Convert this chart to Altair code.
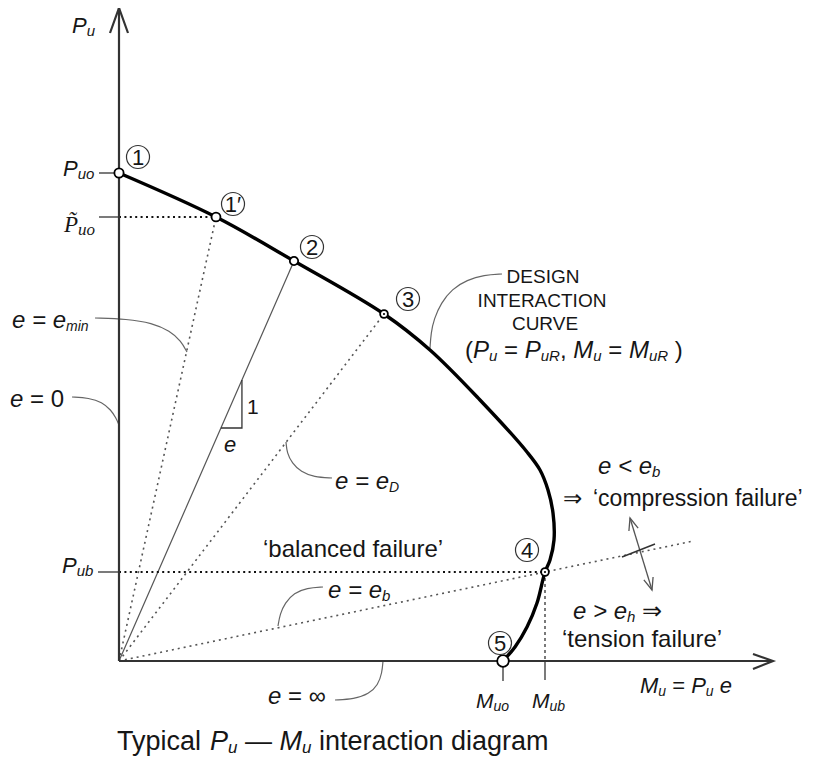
import math
import altair as alt
import pandas as pd

# ---------------- values ----------------
# diagram units: M to the right, P upward, origin at the corner of the axes
curve_M = [0, 97, 175, 265, 311, 361, 408, 421, 429, 434, 435, 431, 426, 418, 408, 396, 384]
curve_P = [488, 444, 400, 347, 311, 261, 209, 191, 171, 148, 121, 101, 89, 58, 34, 14, 0]

point_name = ["1", "1′", "2", "3", "4", "5"]
point_M = [0, 97, 175, 265, 426, 384]
point_P = [488, 444, 400, 347, 89, 0]

tag_M = [19, 114, 193, 289, 408, 381]
tag_P = [504, 457, 414, 362, 111, 18]

ray_to = ["1′", "2", "3", "4"]
ray_reach = [1.0, 1.0, 1.0, 1.35]
ray_solid = [False, True, False, False]

axis_M_end = 654
axis_P_end = 653

lead_emin = [(-24, 343), (8, 342), (33, 338), (51, 330), (62, 320), (68, 309)]
lead_e0 = [(-47, 264), (-30, 263), (-17, 259), (-8, 251), (-3, 243), (0, 236)]
lead_eD = [(213, 183), (195, 184), (182, 189), (173, 198), (168, 208), (167, 219)]
lead_eb = [(204, 74), (188, 73), (175, 68), (166, 58), (161, 47), (159, 35)]
lead_einf = [(216, -39), (235, -38), (250, -33), (259, -24), (263, -12), (264, 0)]
lead_design = [(383, 387), (365, 386), (348, 381), (333, 372), (322, 358),
               (315, 342), (312, 328), (311, 313)]

slope_run = 21  # little slope triangle on the e line
double_arrow = [(511, 143), (533, 71)]
cross_mark = [(503, 104), (536, 117)]

# ---------------- helpers ----------------
P = dict(zip(point_name, zip(point_M, point_P)))

rows = []
def seg(layer, g, pts):
    for i, (x, y) in enumerate(pts):
        rows.append(dict(layer=layer, g=g, i=i, x=x, y=y))

# axes with open arrowheads
seg("axis", "ya", [(0, 0), (0, axis_P_end)])
seg("axis", "xa", [(0, 0), (axis_M_end, 0)])
seg("axis", "yh", [(-9, axis_P_end - 25), (0, axis_P_end), (9, axis_P_end - 25)])
seg("axis", "xh", [(axis_M_end - 20, 7), (axis_M_end, 0), (axis_M_end - 20, -8)])

# rays from the origin
for name, k, solid in zip(ray_to, ray_reach, ray_solid):
    m, p = P[name]
    seg("raysolid" if solid else "raydot", "r" + name, [(0, 0), (m * k, p * k)])

# dotted reference lines
seg("refdot", "h1", [(0, P["1′"][1]), P["1′"]])
seg("refdot", "h4", [(0, P["4"][1]), P["4"]])
seg("vdot", "v4", [P["4"], (P["4"][0], 0)])

# ticks
seg("tick", "t1", [(-20, P["1"][1]), (0, P["1"][1])])
seg("tick", "t1p", [(-20, P["1′"][1]), (0, P["1′"][1])])
seg("tick", "t4", [(-21, P["4"][1]), (0, P["4"][1])])
seg("tick", "t5", [(P["5"][0], -6), (P["5"][0], -20)])
seg("tick", "t4b", [(P["4"][0], 0), (P["4"][0], -19)])

# slope triangle on the e line
m2, p2 = P["2"]
x_lo = 233 * m2 / p2
seg("tick", "tri", [(x_lo, 233), (x_lo + slope_run, 233), (x_lo + slope_run, (x_lo + slope_run) * p2 / m2)])

# leaders
for nm, pts in [("l1", lead_emin), ("l2", lead_e0), ("l3", lead_eD), ("l4", lead_eb),
                ("l5", lead_einf), ("l6", lead_design)]:
    seg("leader", nm, pts)

# double arrow
(ax0, ay0), (ax1, ay1) = double_arrow
seg("darrow", "shaft", double_arrow)
for (tx, ty), (fx, fy), nm in [((ax0, ay0), (ax1, ay1), "ha"), ((ax1, ay1), (ax0, ay0), "hb")]:
    ang = math.atan2(fy - ty, fx - tx)
    L = 13
    a1, a2 = ang + 0.38, ang - 0.38
    seg("darrow", nm, [(tx + L * math.cos(a1), ty + L * math.sin(a1)), (tx, ty),
                        (tx + L * math.cos(a2), ty + L * math.sin(a2))])
seg("cross", "cr", cross_mark)

# curve
for i, (m, p) in enumerate(zip(curve_M, curve_P)):
    rows.append(dict(layer="curve", g="c", i=i, x=m, y=p))

lines = pd.DataFrame(rows)

# ---------------- text ----------------
WS = {' ': 278, '(': 333, ')': 333, ',': 278, '=': 584, '<': 584, '>': 584, '‘': 222, '’': 222,
      '—': 1000, '∞': 713, '⇒': 838, '′': 191, '\u0303': 0,
      'a': 556, 'b': 556, 'c': 500, 'd': 556, 'e': 556, 'f': 278, 'g': 556, 'h': 556, 'i': 222,
      'l': 222, 'm': 833, 'n': 556, 'o': 556, 'p': 556, 'r': 333, 's': 500, 't': 278, 'u': 556,
      'y': 500, '0': 556, '1': 556, 'A': 667, 'C': 722, 'D': 722, 'E': 667, 'G': 778, 'I': 278,
      'M': 833, 'N': 722, 'O': 778, 'P': 667, 'R': 722, 'S': 667, 'T': 611, 'U': 722, 'V': 667}
WSERIF = {'P': 611, 'u': 500, 'o': 500, '\u0303': 0}

def width(text, size, face):
    tab = WSERIF if face == "si" else WS
    return sum(tab.get(c, 556) for c in text) * size / 1000.0

trows = []
def lay(x0, y0, runs):
    x = x0
    for text, face, size, sub in runs:
        lead = len(text) - len(text.lstrip(" "))
        shown = text.strip(" ")
        if shown:
            trows.append(dict(x=x + width(" " * lead, size, face), y=y0 - (3 if sub else 0),
                              text=shown, size=size, face=face))
        x += width(text, size, face)

lay(-47, 628, [("P", "i", 22, 0), ("u", "i", 15, 1)])
lay(-56, 485, [("P", "i", 22, 0), ("uo", "i", 15, 1)])
lay(-55, 429, [("P\u0303", "si", 23, 0), ("uo", "si", 17, 1)])
lay(-57, 88, [("P", "i", 22, 0), ("ub", "i", 15, 1)])
lay(-107, 333, [("e = e", "i", 24, 0), ("min", "i", 14, 1)])
lay(-109, 254, [("e", "i", 24, 0), (" = 0", "n", 24, 0)])
lay(128, 247, [("1", "n", 21, 0)])
lay(105, 209, [("e", "i", 22, 0)])
lay(216, 172, [("e = e", "i", 24, 0), ("D", "i", 14, 1)])
lay(144, 104, [("‘balanced failure’", "n", 24, 0)])
lay(209, 63, [("e = e", "i", 24, 0), ("b", "i", 15, 1)])
lay(149, -43, [("e", "i", 24, 0), (" = ∞", "n", 24, 0)])
lay(357, -47, [("M", "i", 21, 0), ("uo", "i", 14, 1)])
lay(413, -47, [("M", "i", 21, 0), ("ub", "i", 14, 1)])
lay(521, -32, [("M", "i", 22, 0), ("u", "i", 14, 1), (" = ", "n", 22, 0), ("P", "i", 22, 0),
               ("u", "i", 14, 1), (" e", "i", 22, 0)])
lay(454, 42, [("e > e", "i", 24, 0), ("h", "i", 15, 1), (" ⇒", "n", 24, 0)])
lay(443, 14, [("‘tension failure’", "n", 24, 0)])
lay(479, 187, [("e < e", "i", 24, 0), ("b", "i", 15, 1)])
lay(444, 155, [("⇒", "n", 23, 0)])
lay(474, 155, [("‘compression failure’", "n", 23, 0)])
lay(346, 303, [("(", "n", 24, 0), ("P", "i", 24, 0), ("u", "i", 15, 1), (" = ", "n", 24, 0),
               ("P", "i", 24, 0), ("uR", "i", 15, 1), (", ", "n", 24, 0), ("M", "i", 24, 0),
               ("u", "i", 15, 1), (" = ", "n", 24, 0), ("M", "i", 24, 0), ("uR", "i", 15, 1),
               (" )", "n", 24, 0)])
lay(-2, -89, [("Typical ", "n", 27, 0), ("P", "i", 27, 0), ("u", "i", 17, 1), (" — ", "n", 27, 0),
              ("M", "i", 27, 0), ("u", "i", 17, 1), (" interaction diagram", "n", 27, 0)])
texts = pd.DataFrame(trows)

design_text = ["DESIGN", "INTERACTION", "CURVE"]
design_x = [424, 423, 426]
design_y = [378, 354, 331]
design = pd.DataFrame(dict(x=design_x, y=design_y, text=design_text))

pts = pd.DataFrame(dict(x=point_M, y=point_P, name=point_name))
pts["size"] = [85, 80, 70, 60, 60, 135]
dots = pts[pts["name"].isin(["3", "4"])]
tags = pd.DataFrame(dict(x=tag_M, y=tag_P, name=point_name))

# ---------------- chart ----------------
xs = alt.Scale(domain=[-111, 686], nice=False, zero=False)
ys = alt.Scale(domain=[-97, 653], nice=False, zero=False)
X = alt.X("x:Q", scale=xs, axis=None)
Y = alt.Y("y:Q", scale=ys, axis=None)

def line_layer(layer, **mk):
    d = lines[lines["layer"] == layer]
    return alt.Chart(d).mark_line(**mk).encode(x=X, y=Y, detail="g:N", order="i:Q")

FONT = "Liberation Sans"
INK = "#161616"

def text_layer(face):
    d = texts[texts["face"] == face]
    kw = dict(align="left", baseline="alphabetic", color=INK,
              font="Liberation Serif" if face == "si" else FONT)
    if face in ("i", "si"):
        kw["fontStyle"] = "italic"
    return alt.Chart(d).mark_text(**kw).encode(x=X, y=Y, text="text:N",
                                                 size=alt.Size("size:Q", scale=None, legend=None))

layers = [
    line_layer("raydot", color="#555", strokeWidth=1.6, strokeDash=[2, 4]),
    line_layer("raysolid", color="#555", strokeWidth=1.2),
    line_layer("refdot", color="#111", strokeWidth=2.2, strokeDash=[2, 3.4]),
    line_layer("vdot", color="#222", strokeWidth=1.2, strokeDash=[3, 3]),
    line_layer("tick", color="#333", strokeWidth=1.3),
    line_layer("leader", color="#666", strokeWidth=1.2, interpolate="basis"),
    line_layer("darrow", color="#555", strokeWidth=1.3),
    line_layer("cross", color="#333", strokeWidth=1.5),
    line_layer("axis", color="#333", strokeWidth=2.2),
    line_layer("curve", color="#000", strokeWidth=3.4, interpolate="catmull-rom", strokeJoin="round"),
    alt.Chart(pts).mark_circle(fill="white", stroke="#000", strokeWidth=1.8, opacity=1).encode(
        x=X, y=Y, size=alt.Size("size:Q", scale=None, legend=None)),
    alt.Chart(dots).mark_circle(color="#000", size=5, opacity=1).encode(x=X, y=Y),
    alt.Chart(tags).mark_circle(fill="white", stroke="#333", strokeWidth=1.2, size=530, opacity=1).encode(x=X, y=Y),
    alt.Chart(tags).mark_text(font=FONT, fontSize=22, color=INK, align="center", baseline="middle", dy=1).encode(
        x=X, y=Y, text="name:N"),
    text_layer("n"),
    text_layer("i"),
    text_layer("si"),
    alt.Chart(design).mark_text(font=FONT, fontSize=19, color=INK, align="center", baseline="alphabetic").encode(
        x=X, y=Y, text="text:N"),
]

chart = alt.layer(*layers).properties(
    width=797, height=750, padding=0,
    autosize=alt.AutoSizeParams(type="none"), background="white",
).configure_view(strokeWidth=0)

chart.save("out.html", embed_options={"renderer": "svg", "actions": False})
